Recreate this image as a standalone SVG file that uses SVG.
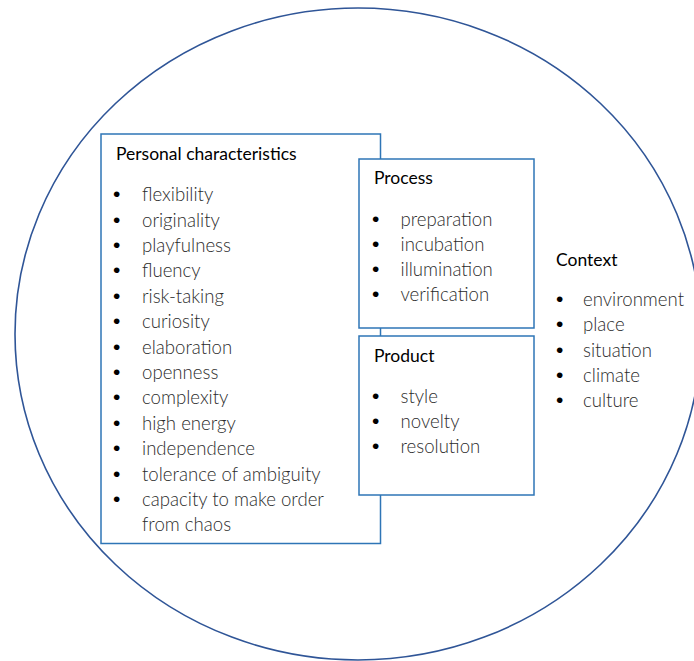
<svg xmlns="http://www.w3.org/2000/svg" width="694" height="661" viewBox="0 0 694 661">
  <style>
    .ring { fill: none; stroke: #2F5597; stroke-width: 1.6; }
    .box { fill: #FFFFFF; stroke: #2E75B6; stroke-width: 1.5; }
    .head { font-family: Lato, "Liberation Sans", sans-serif; font-size: 17.5px; fill: #000000; }
    .item { font-family: Lato, "Liberation Sans", sans-serif; font-weight: 300; font-size: 18.6px; fill: #2B2B2B; }
    .dot { font-family: "Liberation Sans", sans-serif; font-size: 21px; fill: #000000; }
  </style>
  <rect width="694" height="661" fill="#FFFFFF"/>

  <!-- outer context ring -->
  <g id="context">
    <ellipse class="ring" cx="358" cy="334" rx="343" ry="326"/>
    <text class="head" x="556" y="266">Context</text>
    <g class="dot">
      <text x="556" y="306">•</text>
      <text x="556" y="331">•</text>
      <text x="556" y="357">•</text>
      <text x="556" y="382">•</text>
      <text x="556" y="407">•</text>
    </g>
    <g class="item">
      <text x="583" y="306">environment</text>
      <text x="583" y="331">place</text>
      <text x="583" y="357">situation</text>
      <text x="583" y="382">climate</text>
      <text x="583" y="407">culture</text>
    </g>
  </g>

  <g id="personal">
    <rect class="box" x="101" y="134" width="279.5" height="409.5"/>
    <text class="head" x="116" y="160">Personal characteristics</text>
    <g class="dot">
      <text x="113" y="201">•</text>
      <text x="113" y="226.5">•</text>
      <text x="113" y="252">•</text>
      <text x="113" y="277">•</text>
      <text x="113" y="303">•</text>
      <text x="113" y="328">•</text>
      <text x="113" y="353.5">•</text>
      <text x="113" y="379">•</text>
      <text x="113" y="404">•</text>
      <text x="113" y="430">•</text>
      <text x="113" y="455">•</text>
      <text x="113" y="481">•</text>
      <text x="113" y="506">•</text>
    </g>
    <g class="item">
      <text x="142" y="201">flexibility</text>
      <text x="142" y="226.5">originality</text>
      <text x="142" y="252">playfulness</text>
      <text x="142" y="277">fluency</text>
      <text x="142" y="303">risk-taking</text>
      <text x="142" y="328">curiosity</text>
      <text x="142" y="353.5">elaboration</text>
      <text x="142" y="379">openness</text>
      <text x="142" y="404">complexity</text>
      <text x="142" y="430">high energy</text>
      <text x="142" y="455">independence</text>
      <text x="142" y="481">tolerance of ambiguity</text>
      <text x="142" y="506">capacity to make order</text>
      <text x="142" y="531">from chaos</text>
    </g>
  </g>

  <g id="process">
    <rect class="box" x="359" y="159" width="175" height="169"/>
    <text class="head" x="374" y="184">Process</text>
    <g class="dot">
      <text x="372" y="226">•</text>
      <text x="372" y="251">•</text>
      <text x="372" y="276">•</text>
      <text x="372" y="301">•</text>
    </g>
    <g class="item">
      <text x="400.5" y="226">preparation</text>
      <text x="400.5" y="251">incubation</text>
      <text x="400.5" y="276">illumination</text>
      <text x="400.5" y="301">verification</text>
    </g>
  </g>

  <g id="product">
    <rect class="box" x="359" y="336" width="175" height="159"/>
    <text class="head" x="374" y="362">Product</text>
    <g class="dot">
      <text x="372" y="403">•</text>
      <text x="372" y="428">•</text>
      <text x="372" y="453">•</text>
    </g>
    <g class="item">
      <text x="400.5" y="403">style</text>
      <text x="400.5" y="428">novelty</text>
      <text x="400.5" y="453">resolution</text>
    </g>
  </g>

  <g id="connectors"/>
</svg>
